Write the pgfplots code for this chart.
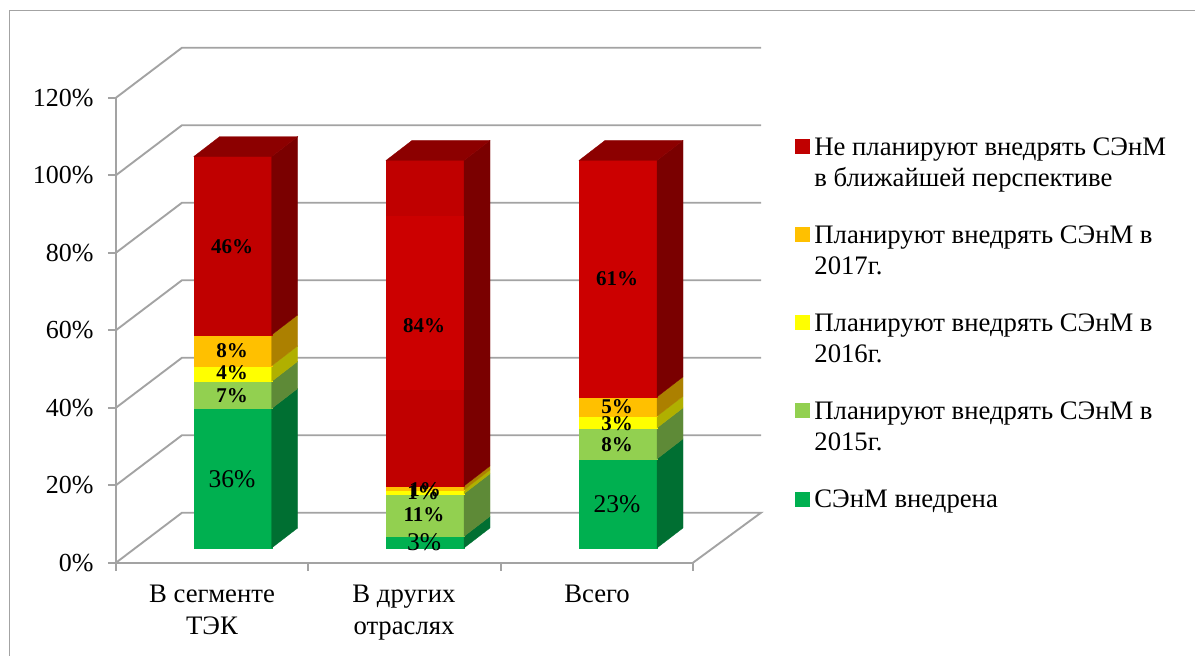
\documentclass[border=0pt]{standalone}
\usepackage{pgfplots}
\pgfplotsset{compat=1.18}
\usepackage{fontspec}
\setmainfont{Liberation Serif}
\definecolor{gridc}{HTML}{A3A3A3}
\definecolor{gr}{HTML}{00B050}\definecolor{grs}{HTML}{006F32}
\definecolor{lg}{HTML}{92D050}\definecolor{lgs}{HTML}{5E8A37}
\definecolor{ye}{HTML}{FFFF00}\definecolor{yes}{HTML}{B0B000}
\definecolor{or}{HTML}{FFC000}\definecolor{ors}{HTML}{AC8000}
\definecolor{re}{HTML}{C00000}\definecolor{res}{HTML}{7A0000}\definecolor{ret}{HTML}{8C0000}
\definecolor{re2}{HTML}{CC0000}
% one slab of a bar: x-left, cumulative start, value, front colour, side colour
\newcommand\seg[5]{%
  \pgfmathsetmacro\ya{#2+3.8}%
  \pgfmathsetmacro\yb{#2+#3+3.8}%
  \pgfmathsetmacro\yc{#2+3.8+5.16}%
  \pgfmathsetmacro\yd{#2+#3+3.8+5.16}%
  \pgfmathsetmacro\xa{#1+78}%
  \pgfmathsetmacro\xb{#1+104}%
  \addplot[forget plot,fill=#4,draw=#4,line width=0.3pt] coordinates {(#1,\ya)(\xa,\ya)(\xa,\yb)(#1,\yb)} --cycle;
  \addplot[forget plot,fill=#5,draw=#5,line width=0.3pt] coordinates {(\xa,\ya)(\xb,\yc)(\xb,\yd)(\xa,\yb)} --cycle;
}
\newcommand\stackbar[7]{% x-left, five values, front red
  \seg{#1}{0}{#2}{gr}{grs}%
  \pgfmathsetmacro\sa{#2}\seg{#1}{\sa}{#3}{lg}{lgs}%
  \pgfmathsetmacro\sa{#2+#3}\seg{#1}{\sa}{#4}{ye}{yes}%
  \pgfmathsetmacro\sa{#2+#3+#4}\seg{#1}{\sa}{#5}{or}{ors}%
  \pgfmathsetmacro\sa{#2+#3+#4+#5}\seg{#1}{\sa}{#6}{#7}{res}%
  \pgfmathsetmacro\ye{#2+#3+#4+#5+#6+3.8}%
  \pgfmathsetmacro\yf{\ye+5.16}%
  \pgfmathsetmacro\xa{#1+78}\pgfmathsetmacro\xb{#1+104}\pgfmathsetmacro\xc{#1+26}%
  \addplot[forget plot,fill=ret,draw=ret,line width=0.3pt] coordinates {(#1,\ye)(\xa,\ye)(\xb,\yf)(\xc,\yf)} --cycle;
}
\newcommand\wall[2]{\addplot[forget plot,gridc,line width=1.9pt] coordinates {(116,#1)(182,#2)(761,#2)};}
\newcommand\lw[1]{\parbox[t]{372pt}{\raggedright #1}}
\newcommand\key[1]{\addlegendimage{legend image code/.code={\fill[#1] (0pt,2pt) rectangle (14pt,16pt);}}}
\begin{document}
\begin{tikzpicture}[x=1pt,y=1pt]
\path[use as bounding box] (0,0) rectangle (1195,656);
\draw[gridc,line width=1.9pt] (9.5,0) -- (9.5,645.5) -- (1195,645.5);
\begin{axis}[
  at={(116pt,93.3pt)},anchor=south west,
  scale only axis,width=577pt,height=465pt,
  xmin=116,xmax=693,ymin=0,ymax=120,
  clip=false,
  axis x line*=bottom,axis y line*=left,
  axis line style={gridc,line width=1.9pt,-},
  every tick/.style={gridc,line width=1.9pt},
  tick align=outside,major tick length=8pt,
  ytick={0,20,40,60,80,100,120},
  yticklabel={\pgfmathprintnumber{\tick}\%},
  /pgf/number format/assume math mode=true,
  y tick label style={font=\fontsize{26}{30}\selectfont},
  yticklabel style={xshift=-11pt},
  xtick={116,308.3,500.6,693},xticklabels={,,,},
  extra x ticks={212,404,597},
  extra x tick labels={{В сегменте\\ТЭК},{В других\\отраслях},{Всего}},
  extra x tick style={major tick length=0pt,
    tick label style={font=\fontsize{26.7}{31.3}\selectfont,align=center,yshift=-19pt,anchor=north}},
  legend style={at={(axis cs:795,109.75)},anchor=north west,draw=none,fill=none,
    inner sep=0pt,outer sep=0pt,row sep=69pt,
    /tikz/column 1/.style={column sep=5pt},
    font=\fontsize{26.7}{31}\selectfont,
    nodes={inner sep=0pt,outer sep=0pt,anchor=base west}},
  legend cell align=left,
]
\wall{120}{132.9}\wall{100}{112.9}\wall{80}{92.9}\wall{60}{72.9}\wall{40}{52.9}\wall{20}{32.9}
\addplot[forget plot,gridc,line width=1.9pt] coordinates {(116,0)(182,12.9)(761,12.9)(693,0)};
\stackbar{193.7}{36}{7}{4}{8}{46}{re}
\stackbar{386}{3}{11}{1}{1}{84}{re}
\stackbar{579}{23}{8}{3}{5}{61}{re2}
\addplot[forget plot,fill=re2,draw=none] coordinates {(386,44.6)(464,44.6)(464,89.4)(386,89.4)} --cycle;
\key{re}\addlegendentry{\lw{Не планируют внедрять СЭнМ\\в ближайшей перспективе}}
\key{or}\addlegendentry{\lw{Планируют внедрять СЭнМ в\\2017г.}}
\key{ye}\addlegendentry{\lw{Планируют внедрять СЭнМ в\\2016г.}}
\key{lg}\addlegendentry{\lw{Планируют внедрять СЭнМ в\\2015г.}}
\key{gr}\addlegendentry{\lw{СЭнМ внедрена}}
\tikzset{bl/.style={font=\fontsize{21}{24}\selectfont\bfseries,inner sep=0pt},
         rg/.style={font=\fontsize{25.5}{28}\selectfont,inner sep=0pt}}
\node[bl] at (axis cs:232,81.5) {46\%};
\node[bl] at (axis cs:232,54.6) {8\%};
\node[bl] at (axis cs:232,49) {4\%};
\node[bl] at (axis cs:232,43) {7\%};
\node[rg] at (axis cs:232,21.6) {36\%};
\node[bl] at (axis cs:424,61.3) {84\%};
\node[bl] at (axis cs:423,18.1) {1\%};
\node[bl] at (axis cs:425,18.9) {1\%};
\node[bl] at (axis cs:424,12.3) {11\%};
\node[rg] at (axis cs:424,5.3) {3\%};
\node[bl] at (axis cs:617,73.2) {61\%};
\node[bl] at (axis cs:617,40.2) {5\%};
\node[bl] at (axis cs:617,35.8) {3\%};
\node[bl] at (axis cs:617,30.4) {8\%};
\node[rg] at (axis cs:617,15.1) {23\%};
\end{axis}
\end{tikzpicture}
\end{document}
